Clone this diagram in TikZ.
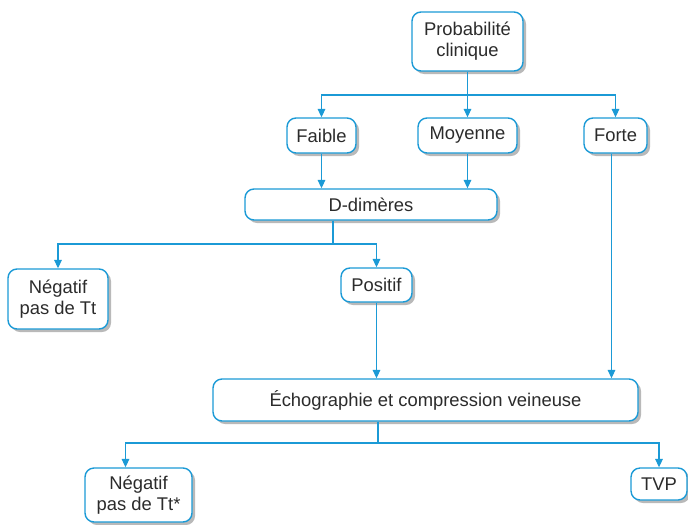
\documentclass[tikz,border=0pt]{standalone}
\usepackage{fontspec}
\setmainfont{Liberation Sans}
\usetikzlibrary{arrows.meta,positioning,shadows}
\definecolor{trait}{HTML}{1B9AD6}
\definecolor{texte}{HTML}{2B2B2B}
\tikzset{>={Triangle[length=4.2pt,width=3.8pt]},
  every node/.style={font=\fontsize{9.2}{10.4}\selectfont,text=texte},
  boite/.style={draw=trait,line width=.7pt,rounded corners=4.5pt,fill=white,align=center,inner sep=0pt,
    drop shadow={shadow xshift=1.5pt,shadow yshift=-1.5pt,fill=black!55}},
  fleche/.style={->,draw=trait,line width=.55pt},
  lien/.style={draw=trait,line width=.55pt}}
\begin{document}
\begin{tikzpicture}[x=.5pt,y=-.5pt]
\useasboundingbox (0,0) rectangle (688,524);
% boites
\node[boite,minimum width=55.5pt,minimum height=29.5pt](proba)at(467.5,41.5){Probabilité\\clinique};
\node[boite,minimum width=34.5pt,minimum height=17.5pt](faible)at(321.5,135.5){Faible};
\node[boite,minimum width=49.5pt,minimum height=17.5pt](moyenne)at(467.5,135.5){Moyenne};
\node[boite,minimum width=31.5pt,minimum height=17.5pt](forte)at(615.5,135.5){Forte};
\node[boite,minimum width=126pt,minimum height=15.5pt](ddim)at(371,204.5){D-dimères};
\node[boite,minimum width=50pt,minimum height=30pt](neg1)at(58,299){Négatif\\pas de Tt};
\node[boite,minimum width=35.5pt,minimum height=17pt](positif)at(376.5,285){Positif};
\node[boite,minimum width=212.5pt,minimum height=21pt](echo)at(425.5,400){Échographie et compression veineuse};
\node[boite,minimum width=53.5pt,minimum height=27pt](neg2)at(138.5,495){Négatif\\pas de Tt*};
\node[boite,minimum width=28pt,minimum height=16pt](tvp)at(659,484){TVP};
% liaisons
\coordinate(j1)at(467.5,95);
\draw[lien](proba.south)--(j1);
\draw[fleche](j1)-|(faible.north);
\draw[fleche](j1)--(moyenne.north);
\draw[fleche](j1)-|(forte.north);
\draw[fleche](faible.south)--(faible.south|-ddim.north);
\draw[fleche](moyenne.south)--(moyenne.south|-ddim.north);
\coordinate(j2)at(333,244);
\draw[lien](j2|-ddim.south)--(j2);
\draw[fleche](j2)-|(neg1.north);
\draw[fleche](j2)-|(positif.north);
\draw[fleche](positif.south)--(positif.south|-echo.north);
\draw[fleche]([xshift=-2pt]forte.south)--([xshift=-2pt]forte.south|-echo.north);
\coordinate(j3)at(378,443);
\draw[lien](j3|-echo.south)--(j3);
\draw[fleche](j3)-|([xshift=-6.5pt]neg2.north);
\draw[fleche](j3)-|(tvp.north);
\end{tikzpicture}
\end{document}
